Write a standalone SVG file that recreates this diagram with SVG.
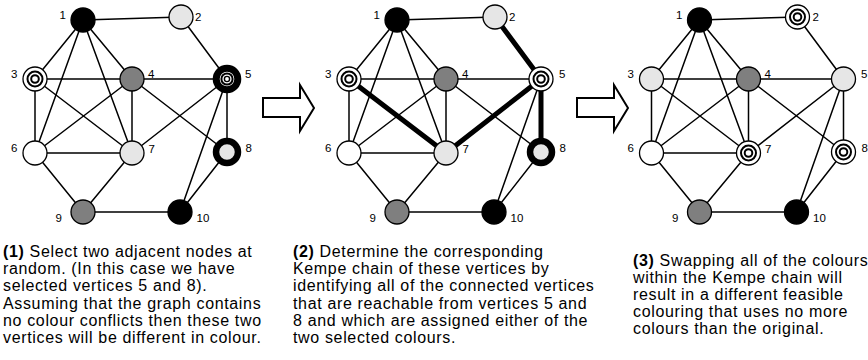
<svg xmlns="http://www.w3.org/2000/svg" width="868" height="360" viewBox="0 0 868 360">
<style>
.e{stroke:#000;stroke-width:1.5;fill:none;stroke-linecap:round}
.k{stroke:#000;stroke-width:5;fill:none;stroke-linecap:round}
.n{stroke:#000;stroke-width:1.3}
.blk{fill:#000}
.lg{fill:#e6e6e6}
.g{fill:#7f7f7f}
.w{fill:#fff}
.ring{fill:none;stroke:#000;stroke-width:2}
.thick{stroke:#000;stroke-width:6.5}
.lab{font-family:"Liberation Sans",Arial,sans-serif;font-size:11.5px;fill:#000}
.cap{font-family:"Liberation Sans",Arial,sans-serif;font-size:16px;letter-spacing:0.65px;fill:#000}
.arr{fill:#fff;stroke:#000;stroke-width:2;stroke-linejoin:miter}
</style>
<defs>
<g id="edges">
<line class="e" x1="83" y1="20" x2="181" y2="17"/>
<line class="e" x1="83" y1="20" x2="35" y2="79"/>
<line class="e" x1="83" y1="20" x2="132" y2="79"/>
<line class="e" x1="83" y1="20" x2="35" y2="153"/>
<line class="e" x1="83" y1="20" x2="132" y2="153"/>
<line class="e" x1="35" y1="79" x2="132" y2="79"/>
<line class="e" x1="35" y1="79" x2="35" y2="153"/>
<line class="e" x1="132" y1="79" x2="227" y2="79"/>
<line class="e" x1="132" y1="79" x2="35" y2="153"/>
<line class="e" x1="132" y1="79" x2="132" y2="153"/>
<line class="e" x1="132" y1="79" x2="227" y2="152"/>
<line class="e" x1="227" y1="79" x2="180" y2="212"/>
<line class="e" x1="35" y1="153" x2="132" y2="153"/>
<line class="e" x1="35" y1="153" x2="83" y2="212"/>
<line class="e" x1="132" y1="153" x2="83" y2="212"/>
<line class="e" x1="227" y1="152" x2="180" y2="212"/>
<line class="e" x1="83" y1="212" x2="180" y2="212"/>
</g>
<g id="conc">
<circle class="n w" r="12"/>
<circle class="ring" r="7.5"/>
<circle class="ring" r="3.8"/>
</g>
</defs>
<g id="connectors">
<g id="edges-1">
<use href="#edges"/>
<line class="e" x1="181" y1="17" x2="227" y2="79"/>
<line class="e" x1="35" y1="79" x2="132" y2="153"/>
<line class="e" x1="227" y1="79" x2="132" y2="153"/>
<line class="e" x1="227" y1="79" x2="227" y2="152"/>
</g>
<g id="edges-2" transform="translate(314,0)">
<use href="#edges"/>
<line class="k" x1="181" y1="17" x2="227" y2="79"/>
<line class="k" x1="35" y1="79" x2="132" y2="153"/>
<line class="k" x1="227" y1="79" x2="132" y2="153"/>
<line class="k" x1="227" y1="79" x2="227" y2="152"/>
</g>
<g id="edges-3" transform="translate(616.5,0)">
<use href="#edges"/>
<line class="e" x1="181" y1="17" x2="227" y2="79"/>
<line class="e" x1="35" y1="79" x2="132" y2="153"/>
<line class="e" x1="227" y1="79" x2="132" y2="153"/>
<line class="e" x1="227" y1="79" x2="227" y2="152"/>
</g>
</g>

<g id="panel-1">
<g id="p1-n1"><circle class="n blk" cx="83" cy="20" r="12"/><text class="lab" x="66" y="19" text-anchor="end">1</text></g>
<g id="p1-n2"><circle class="n lg" cx="181" cy="17" r="12"/><text class="lab" x="195" y="21">2</text></g>
<g id="p1-n3"><use href="#conc" x="35" y="79"/><text class="lab" x="17.5" y="78" text-anchor="end">3</text></g>
<g id="p1-n4"><circle class="n g" cx="132" cy="79" r="12"/><text class="lab" x="148" y="78">4</text></g>
<g id="p1-n5"><circle class="thick w" cx="227" cy="79" r="10.8" style="stroke-width:7"/><circle class="ring" cx="227" cy="79" r="5.6"/><circle cx="227" cy="79" r="2.6" fill="none" stroke="#000" stroke-width="1.4"/><text class="lab" x="245" y="78">5</text></g>
<g id="p1-n6"><circle class="n w" cx="35" cy="153" r="12"/><text class="lab" x="17.5" y="152" text-anchor="end">6</text></g>
<g id="p1-n7"><circle class="n lg" cx="132" cy="153" r="12"/><text class="lab" x="148.5" y="153">7</text></g>
<g id="p1-n8"><circle class="thick lg" cx="227" cy="152" r="11"/><text class="lab" x="245.5" y="152">8</text></g>
<g id="p1-n9"><circle class="n g" cx="83" cy="212" r="12"/><text class="lab" x="62" y="222" text-anchor="end">9</text></g>
<g id="p1-n10"><circle class="n blk" cx="180" cy="212" r="12"/><text class="lab" x="196.5" y="222">10</text></g>
</g>

<g id="panel-2" transform="translate(314,0)">
<g id="p2-n1"><circle class="n blk" cx="83" cy="20" r="12"/><text class="lab" x="66" y="19" text-anchor="end">1</text></g>
<g id="p2-n2"><circle class="n lg" cx="181" cy="17" r="12"/><text class="lab" x="195" y="21">2</text></g>
<g id="p2-n3"><use href="#conc" x="35" y="79"/><text class="lab" x="17.5" y="78" text-anchor="end">3</text></g>
<g id="p2-n4"><circle class="n g" cx="132" cy="79" r="12"/><text class="lab" x="148" y="78">4</text></g>
<g id="p2-n5"><use href="#conc" x="227" y="79"/><text class="lab" x="245" y="78">5</text></g>
<g id="p2-n6"><circle class="n w" cx="35" cy="153" r="12"/><text class="lab" x="17.5" y="152" text-anchor="end">6</text></g>
<g id="p2-n7"><circle class="n lg" cx="132" cy="153" r="12"/><text class="lab" x="148.5" y="153">7</text></g>
<g id="p2-n8"><circle class="thick lg" cx="227" cy="152" r="11"/><text class="lab" x="245.5" y="152">8</text></g>
<g id="p2-n9"><circle class="n g" cx="83" cy="212" r="12"/><text class="lab" x="62" y="222" text-anchor="end">9</text></g>
<g id="p2-n10"><circle class="n blk" cx="180" cy="212" r="12"/><text class="lab" x="196.5" y="222">10</text></g>
</g>

<g id="panel-3" transform="translate(616.5,0)">
<g id="p3-n1"><circle class="n blk" cx="83" cy="20" r="12"/><text class="lab" x="66" y="19" text-anchor="end">1</text></g>
<g id="p3-n2"><use href="#conc" x="181" y="17"/><text class="lab" x="196" y="21">2</text></g>
<g id="p3-n3"><circle class="n lg" cx="35" cy="79" r="12"/><text class="lab" x="17.5" y="78" text-anchor="end">3</text></g>
<g id="p3-n4"><circle class="n g" cx="132" cy="79" r="12"/><text class="lab" x="148" y="78">4</text></g>
<g id="p3-n5"><circle class="n lg" cx="227" cy="79" r="12"/><text class="lab" x="244.5" y="78">5</text></g>
<g id="p3-n6"><circle class="n w" cx="35" cy="153" r="12"/><text class="lab" x="17.5" y="152" text-anchor="end">6</text></g>
<g id="p3-n7"><use href="#conc" x="132" y="153"/><text class="lab" x="148.5" y="153">7</text></g>
<g id="p3-n8"><use href="#conc" x="227" y="152"/><text class="lab" x="245" y="152">8</text></g>
<g id="p3-n9"><circle class="n g" cx="83" cy="212" r="12"/><text class="lab" x="62" y="222" text-anchor="end">9</text></g>
<g id="p3-n10"><circle class="n blk" cx="180" cy="212" r="12"/><text class="lab" x="196.5" y="222">10</text></g>
</g>

<g id="arrows">
<polygon class="arr" points="263,98 300,98 300,85 314,108 300,131 300,117 263,117"/>
<polygon class="arr" points="577,98 614,98 614,85 628,108 614,131 614,117 577,117"/>
</g>

<g id="captions">
<text class="cap" x="3" y="257"><tspan font-weight="bold">(1)</tspan> Select two adjacent nodes at<tspan x="3" dy="17.2">random. (In this case we have</tspan><tspan x="3" dy="17.2">selected vertices 5 and 8).</tspan><tspan x="3" dy="17.2">Assuming that the graph contains</tspan><tspan x="3" dy="17.2">no colour conflicts then these two</tspan><tspan x="3" dy="17.2">vertices will be different in colour.</tspan></text>
<text class="cap" x="293" y="257"><tspan font-weight="bold">(2)</tspan> Determine the corresponding<tspan x="293" dy="17.2">Kempe chain of these vertices by</tspan><tspan x="293" dy="17.2">identifying all of the connected vertices</tspan><tspan x="293" dy="17.2">that are reachable from vertices 5 and</tspan><tspan x="293" dy="17.2">8 and which are assigned either of the</tspan><tspan x="293" dy="17.2">two selected colours.</tspan></text>
<text class="cap" x="633" y="265.5"><tspan font-weight="bold">(3)</tspan> Swapping all of the colours<tspan x="633" dy="17.2">within the Kempe chain will</tspan><tspan x="633" dy="17.2">result in a different feasible</tspan><tspan x="633" dy="17.2">colouring that uses no more</tspan><tspan x="633" dy="17.2">colours than the original.</tspan></text>
</g>
</svg>
